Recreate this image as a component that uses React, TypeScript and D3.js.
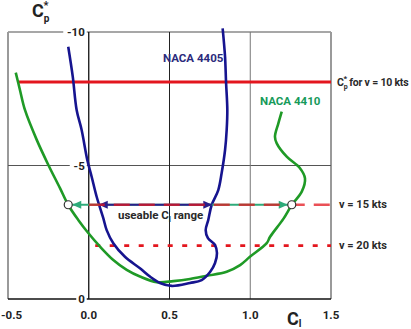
import React from "react";
import * as d3 from "d3";

// NACA 4410 (green) — Cl, Cp* pairs along the curve
const naca4410Cl = [-0.452, -0.426, -0.395, -0.322, -0.25, -0.178, -0.127, -0.065, -0.003, 0.07, 0.152, 0.235, 0.317, 0.421, 0.524, 0.627, 0.73, 0.854, 0.937, 0.998, 1.102, 1.122, 1.205, 1.257, 1.319, 1.339, 1.308, 1.226, 1.164, 1.153, 1.174, 1.195];
const naca4410Cp = [-8.48, -7.83, -7.08, -5.96, -5.02, -4.15, -3.52, -2.96, -2.47, -1.96, -1.46, -1.09, -0.84, -0.63, -0.67, -0.75, -0.87, -1.02, -1.27, -1.58, -2.09, -2.32, -3.0, -3.52, -4.02, -4.52, -4.9, -5.33, -5.83, -6.08, -6.58, -7.02];

// NACA 4405 (blue)
const naca4405Cl = [-0.127, -0.099, -0.075, -0.044, -0.009, 0.018, 0.049, 0.09, 0.111, 0.152, 0.224, 0.317, 0.379, 0.441, 0.514, 0.627, 0.699, 0.751, 0.782, 0.794, 0.782, 0.738, 0.724, 0.74, 0.761, 0.802, 0.823, 0.844, 0.854, 0.858, 0.85, 0.844, 0.829];
const naca4405Cp = [-9.45, -8.33, -7.08, -6.33, -5.21, -4.58, -3.83, -3.03, -2.58, -2.09, -1.58, -1.15, -0.84, -0.6, -0.49, -0.6, -0.71, -1.01, -1.35, -1.72, -2.02, -2.28, -2.58, -2.96, -3.52, -4.08, -4.72, -5.58, -6.33, -7.08, -8.14, -9.07, -10.14];

// Cp* limits for boat speeds
const speedLabels = ["10", "15", "20"];
const speedCp = [-8.13, -3.53, -2.0];
const speedStartCl = [-0.438, 0.0, 0.04];

// useable Cl ranges at v = 15 kts
const range4410 = [-0.127, 1.257];
const range4405 = [0.062, 0.765];

const xTicks = [-0.5, 0, 0.5, 1.0, 1.5];
const xTickLabels = ["-0.5", "0.0", "0.5", "1.0", "1.5"];
const yTicks = [0, -5, -10];
const yTickLabels = ["0", "-5", "-10"];

const W = 411, H = 329;
const FONT = "Roboto, 'Liberation Sans', sans-serif";

export default function App() {
  const x = d3.scaleLinear().domain([-0.5, 1.5]).range([8, 331]);
  const y = d3.scaleLinear().domain([0, -10]).range([299, 32]);
  const line = d3.line<[number, number]>().x(d => x(d[0])).y(d => y(d[1])).curve(d3.curveCatmullRom.alpha(0.5));
  const green = naca4410Cl.map((c, i) => [c, naca4410Cp[i]] as [number, number]);
  const blue = naca4405Cl.map((c, i) => [c, naca4405Cp[i]] as [number, number]);

  const yA = y(speedCp[1]);
  const arrowHead = (tipX: number, dir: number, color: string, key: string) => {
    const L = 9, Wd = 4;
    const p = `M${tipX},${yA} L${tipX - dir * L},${yA - Wd} L${tipX - dir * L},${yA + Wd} Z`;
    return <path key={key} d={p} fill={color} />;
  };
  const teal = "#2eab7a";
  const navy = "#2a1f8a";

  return (
    <svg width={W} height={H} style={{ position: "absolute", left: 0, top: 0, background: "#fff" }} fontFamily={FONT}>
      {/* frame */}
      <line x1={x(-0.5)} x2={x(1.5)} y1={y(-10)} y2={y(-10)} stroke="#8a8a8a" strokeWidth={1.5} />
      <line x1={x(-0.5)} x2={x(-0.5)} y1={y(-10)} y2={y(0)} stroke="#9a9a9a" strokeWidth={2} />
      <line x1={x(1.5)} x2={x(1.5)} y1={y(-10)} y2={y(0)} stroke="#9a9a9a" strokeWidth={2} />
      <line x1={x(-0.5)} x2={x(1.5)} y1={y(-5)} y2={y(-5)} stroke="#555" strokeWidth={1} />
      <line x1={x(0.5)} x2={x(0.5)} y1={y(-10)} y2={y(0)} stroke="#222" strokeWidth={1} />
      <line x1={x(1.0)} x2={x(1.0)} y1={y(-10)} y2={y(0)} stroke="#777" strokeWidth={1} />
      <line x1={x(0)} x2={x(0)} y1={y(-10)} y2={y(0)} stroke="#111" strokeWidth={1.3} />
      <line x1={x(-0.5)} x2={x(1.5)} y1={y(0)} y2={y(0)} stroke="#111" strokeWidth={1.6} />

      {/* y tick labels */}
      {yTicks.map((t, i) => (
        <g key={"yt" + i}>
          <rect x={x(0) - 6 - yTickLabels[i].length * 6.5} y={y(t) - 6} width={yTickLabels[i].length * 6.5 + 4} height={12} fill="#fff" />
          <text x={x(0) - 4} y={y(t) + 4} textAnchor="end" fontSize={11.5} fontWeight={700} fill="#222">{yTickLabels[i]}</text>
        </g>
      ))}
      {/* x tick labels */}
      {xTicks.map((t, i) => (
        <text key={"xt" + i} x={i === 0 ? 1 : x(t)} y={319} textAnchor={i === 0 ? "start" : "middle"} fontSize={11.5} fontWeight={700} fill="#222">{xTickLabels[i]}</text>
      ))}

      {/* speed lines */}
      <line x1={x(speedStartCl[0])} x2={x(1.5)} y1={y(speedCp[0])} y2={y(speedCp[0])} stroke="#e3161e" strokeWidth={3} />
      <line x1={x(speedStartCl[2])} x2={x(1.5)} y1={y(speedCp[2])} y2={y(speedCp[2])} stroke="#e3161e" strokeWidth={2.6} strokeDasharray="5 9.5" />

      {/* curves */}
      <path d={line(green) || ""} fill="none" stroke="#1f9a26" strokeWidth={2.6} />
      <path d={line(blue) || ""} fill="none" stroke="#16148f" strokeWidth={2.6} />

      {/* useable range arrows */}
      <line x1={x(range4410[0])} x2={x(range4410[1])} y1={yA} y2={yA} stroke={teal} strokeWidth={2.2} />
      {arrowHead(x(range4410[0]) + 4, -1, teal, "a1")}
      {arrowHead(x(range4410[1]) - 4, 1, teal, "a2")}
      <line x1={x(range4405[0])} x2={x(range4405[1])} y1={yA} y2={yA} stroke={navy} strokeWidth={2.2} />
      {arrowHead(x(range4405[0]), -1, navy, "a3")}
      {arrowHead(x(range4405[1]), 1, navy, "a4")}
      <line x1={x(speedStartCl[1])} x2={x(1.5)} y1={yA} y2={yA} stroke="#e3161e" strokeOpacity={0.75} strokeWidth={2.6} strokeDasharray="16 9" />
      <circle cx={x(range4410[0])} cy={yA} r={4} fill="#fff" stroke="#333" strokeWidth={1.2} />
      <circle cx={x(range4410[1])} cy={yA} r={4} fill="#fff" stroke="#333" strokeWidth={1.2} />

      {/* labels */}
      <text x={163} y={62} fontSize={11.5} fontWeight={700} fill="#2b2a7c">NACA 4405</text>
      <text x={260} y={105} fontSize={11.5} fontWeight={700} fill="#169a5a">NACA 4410</text>
      <text x={118} y={219} fontSize={11.5} fontWeight={700} fill="#2a2a2a">useable C<tspan fontSize={8} dy={3}>l</tspan><tspan dy={-3}> range</tspan></text>

      <text x={337} y={86} fontSize={10.5} fontWeight={700} fill="#2a2a2a" letterSpacing={-0.2}>C<tspan fontSize={7} dy={3}>p</tspan><tspan fontSize={8} dx={-4} dy={-8}>*</tspan><tspan dy={5}> for v = {speedLabels[0]} kts</tspan></text>
      <text x={339} y={208} fontSize={11} fontWeight={700} fill="#2a2a2a">v = {speedLabels[1]} kts</text>
      <text x={339} y={249} fontSize={11} fontWeight={700} fill="#2a2a2a">v = {speedLabels[2]} kts</text>

      <text x={32} y={17} fontSize={18} fontWeight={700} fill="#222">C<tspan fontSize={10} dy={5}>p</tspan><tspan fontSize={11} dx={-6} dy={-13}>*</tspan></text>
      <text x={287} y={325} fontSize={18} fontWeight={700} fill="#222">C<tspan fontSize={10} dy={2}>l</tspan></text>
    </svg>
  );
}
